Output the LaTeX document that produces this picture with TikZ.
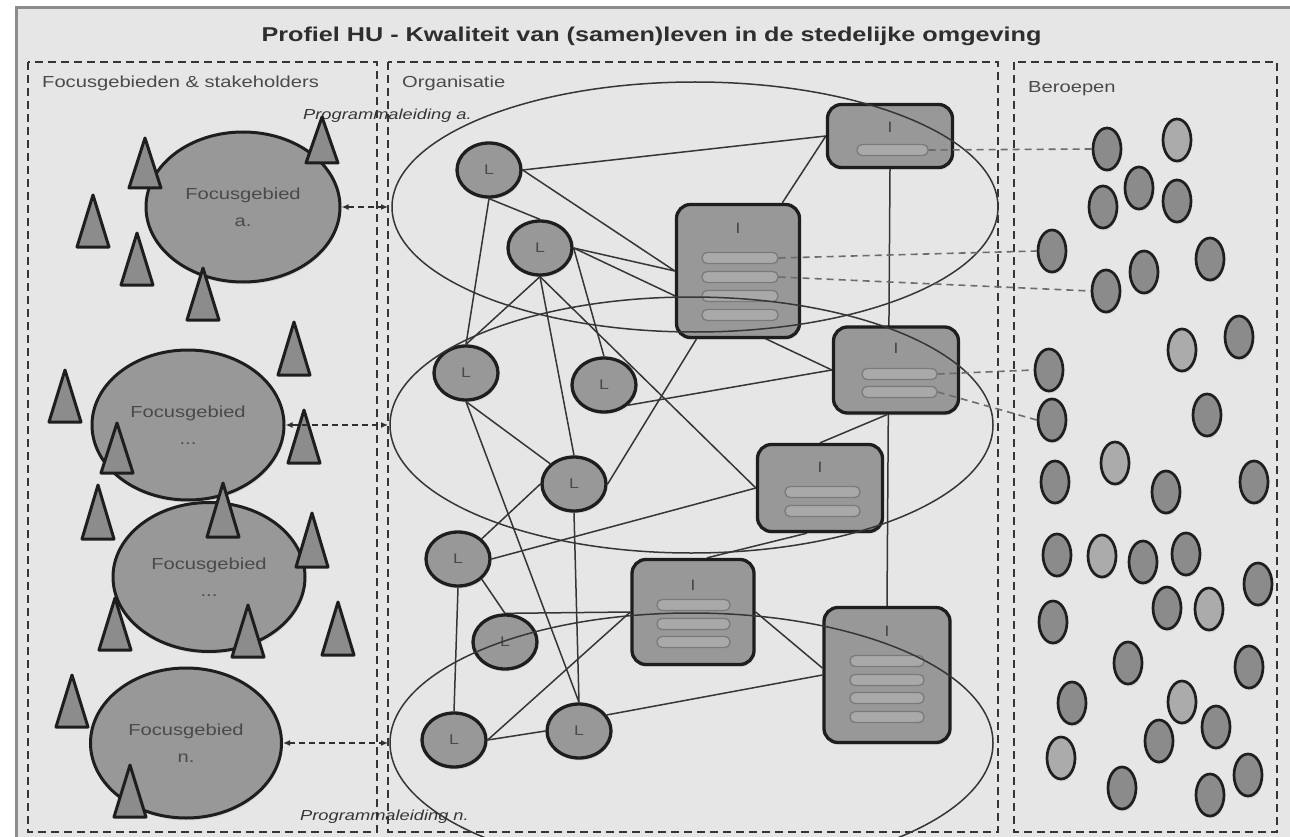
\documentclass[tikz,border=0pt]{standalone}
\usepackage{fontspec}
\setmainfont[FakeStretch=1.26]{Liberation Sans}
\usetikzlibrary{shapes.geometric,arrows.meta,calc,shadows}
\definecolor{bg}{HTML}{E6E6E6}
\definecolor{framegray}{HTML}{8C8C8C}
\definecolor{boxdash}{HTML}{353535}
\definecolor{shapegray}{HTML}{989898}
\definecolor{lineblack}{HTML}{1E1E1E}
\definecolor{txtgray}{HTML}{4A4A4A}
\definecolor{stakegray}{HTML}{8C8C8C}
\definecolor{bdark}{HTML}{8B8B8B}
\definecolor{blight}{HTML}{ABABAB}
\definecolor{linegray}{HTML}{363636}
\definecolor{barfill}{HTML}{A9A9A9}
\definecolor{bargray}{HTML}{7A7A7A}
\definecolor{dashgray}{HTML}{303030}
\definecolor{bdash}{HTML}{6C6C6C}
\pgfdeclarelayer{back}
\pgfdeclarelayer{edges}
\pgfdeclarelayer{front}
\pgfsetlayers{back,edges,main,front}
\newcommand{\drawstake}[3]{\draw[stakestyle] (#1-16,#3) -- (#1,#2) -- (#1+16,#3) -- cycle;}
\begin{document}
\begin{tikzpicture}[x=1pt,y=-1pt,
 softshadow/.style={drop shadow={opacity=0.16, shadow xshift=1pt, shadow yshift=-2.5pt}},
 focus/.style={ellipse, draw=lineblack, line width=3pt, fill=shapegray, inner sep=0pt, text=txtgray, font=\fontsize{16}{27}\selectfont, align=center, softshadow},
 lnode/.style={ellipse, draw=lineblack, line width=3.3pt, fill=shapegray, minimum width=64pt, minimum height=54pt, inner sep=0pt, text=txtgray, font=\fontsize{14}{14}\selectfont, softshadow},
 ibox/.style={rectangle, rounded corners=14pt, draw=lineblack, line width=3.3pt, fill=shapegray, inner sep=0pt, softshadow},
 ibar/.style={rectangle, rounded corners=5pt, draw=bargray, line width=1.3pt, fill=barfill, minimum height=11pt, inner sep=0pt},
 ilabel/.style={text=txtgray, font=\fontsize{15}{15}\selectfont, inner sep=0pt},
 beroep/.style={ellipse, draw=lineblack, line width=2.7pt, minimum width=28pt, minimum height=42pt, inner sep=0pt, fill=bdark, softshadow},
 beroepl/.style={beroep, fill=blight},
 conn/.style={draw=linegray, line width=1.5pt},
 prog/.style={draw=linegray, line width=1.5pt},
 focusarrow/.style={draw=dashgray, line width=1.8pt, dash pattern=on 6pt off 4pt, {Latex[length=7pt,width=6pt]}-{Latex[length=7pt,width=6pt]}},
 berdash/.style={draw=bdash, line width=1.6pt, dash pattern=on 7pt off 5pt},
 secbox/.style={draw=boxdash, line width=2.4pt, dash pattern=on 8pt off 5pt},
 stakestyle/.style={draw=lineblack, fill=stakegray, line width=3pt, line join=round},
 seclabel/.style={anchor=base west, text=txtgray, font=\fontsize{16}{16}\selectfont, inner sep=0pt},
 proglabel/.style={anchor=base west, text=linegray, font=\itshape\fontsize{14.5}{14.5}\selectfont, inner sep=0pt}
]
\useasboundingbox (0,0) rectangle (1290,837);

% background and frame
\begin{pgfonlayer}{back}
\fill[white] (0,0) rectangle (1290,837);
\fill[bg] (16,8) rectangle (1290,837);
\draw[framegray, line width=3pt] (16,837) -- (16,8) -- (1290,8);
\draw[secbox] (28,62) rectangle (377,832);
\draw[secbox] (388,62) rectangle (998,832);
\draw[secbox] (1014,62) rectangle (1277,832);
\end{pgfonlayer}

% title and section labels
\node[anchor=base, text=black!82, font=\bfseries\fontsize{20}{20}\selectfont, inner sep=0pt] (title) at (651.5,42) {Profiel HU - Kwaliteit van (samen)leven in de stedelijke omgeving};
\node[seclabel] (lblfocus) at (42,88) {Focusgebieden \& stakeholders};
\node[seclabel] (lblorg) at (402,88) {Organisatie};
\node[seclabel] (lblber) at (1028,93) {Beroepen};
\node[proglabel] (lblpa) at (303,120) {Programmaleiding a.};
\node[proglabel] (lblpn) at (300,820) {Programmaleiding n.};

% focus areas
\node[focus, minimum width=194pt, minimum height=150pt] (E1) at (243,207) {Focusgebied\\a.};
\node[focus, minimum width=192pt, minimum height=150pt] (E2) at (188,425) {Focusgebied\\...};
\node[focus, minimum width=192pt, minimum height=149pt] (E3) at (209,577) {Focusgebied\\...};
\node[focus, minimum width=191pt, minimum height=150pt] (E4) at (186,743) {Focusgebied\\n.};

% stakeholders
\drawstake{145}{138}{188}
\drawstake{322}{117}{163}
\drawstake{93}{195}{247}
\drawstake{137}{233}{285}
\drawstake{203}{268}{320}
\drawstake{294}{322}{375}
\drawstake{65}{370}{422}
\drawstake{117}{423}{473}
\drawstake{304}{410}{463}
\drawstake{98}{485}{539}
\drawstake{223}{483}{537}
\drawstake{312}{513}{567}
\drawstake{115}{598}{650}
\drawstake{248}{605}{657}
\drawstake{338}{602}{655}
\drawstake{72}{675}{727}
\drawstake{130}{765}{817}

% arrows to organisation
\coordinate (A1) at (388,207);
\coordinate (A2) at (388,425);
\coordinate (A4) at (388,743);
\draw[focusarrow] (E1.east) -- (A1);
\draw[focusarrow] (E2.east) -- (A2);
\draw[focusarrow] (E4.east) -- (A4);

% L nodes
\node[lnode] (L1) at (489,170) {L};
\node[lnode] (L2) at (540,248) {L};
\node[lnode] (L3) at (466,373) {L};
\node[lnode] (L4) at (604,385) {L};
\node[lnode] (L5) at (574,484) {L};
\node[lnode] (L6) at (458,559) {L};
\node[lnode] (L7) at (505,642) {L};
\node[lnode] (L8) at (454,740) {L};
\node[lnode] (L9) at (579,731) {L};

% I nodes
\node[ibox, minimum width=125pt, minimum height=63pt] (I1) at (890,136) {};
\node[ilabel] (I1t) at ($(I1)+(0,-9)$) {I};
\node[ibar, minimum width=71pt] (I1a) at ($(I1)+(2.5,14)$) {};

\node[ibox, minimum width=123pt, minimum height=133pt] (I2) at (738,271) {};
\node[ilabel] (I2t) at ($(I2)+(0,-43)$) {I};
\node[ibar, minimum width=76pt] (I2a) at ($(I2)+(2,-13)$) {};
\node[ibar, minimum width=76pt] (I2b) at ($(I2)+(2,6)$) {};
\node[ibar, minimum width=76pt] (I2c) at ($(I2)+(2,25)$) {};
\node[ibar, minimum width=76pt] (I2d) at ($(I2)+(2,44)$) {};

\node[ibox, minimum width=125pt, minimum height=86pt] (I3) at (896,370) {};
\node[ilabel] (I3t) at ($(I3)+(0,-22)$) {I};
\node[ibar, minimum width=75pt] (I3a) at ($(I3)+(3.5,4)$) {};
\node[ibar, minimum width=75pt] (I3b) at ($(I3)+(3.5,22)$) {};

\node[ibox, minimum width=125pt, minimum height=87pt] (I4) at (820,488) {};
\node[ilabel] (I4t) at ($(I4)+(0,-21)$) {I};
\node[ibar, minimum width=75pt] (I4a) at ($(I4)+(2.5,4)$) {};
\node[ibar, minimum width=75pt] (I4b) at ($(I4)+(2.5,23)$) {};

\node[ibox, minimum width=122pt, minimum height=105pt] (I5) at (693,612) {};
\node[ilabel] (I5t) at ($(I5)+(0,-27)$) {I};
\node[ibar, minimum width=73pt] (I5a) at ($(I5)+(0.5,-7)$) {};
\node[ibar, minimum width=73pt] (I5b) at ($(I5)+(0.5,12)$) {};
\node[ibar, minimum width=73pt] (I5c) at ($(I5)+(0.5,30)$) {};

\node[ibox, minimum width=126pt, minimum height=135pt] (I6) at (887,675) {};
\node[ilabel] (I6t) at ($(I6)+(0,-44)$) {I};
\node[ibar, minimum width=74pt] (I6a) at ($(I6)+(0,-14)$) {};
\node[ibar, minimum width=74pt] (I6b) at ($(I6)+(0,5)$) {};
\node[ibar, minimum width=74pt] (I6c) at ($(I6)+(0,23)$) {};
\node[ibar, minimum width=74pt] (I6d) at ($(I6)+(0,42)$) {};

% connectors inside the organisation
\begin{pgfonlayer}{edges}
\draw[conn] (L1.east) -- (I1.west);
\draw[conn] (L1.east) -- (I2.west);
\draw[conn] (L1.south) -- (L2.north);
\draw[conn] (L1.south) -- (L3.north);
\draw[conn] (L2.east) -- (I2.west);
\draw[conn] (L2.east) -- (I3.west);
\draw[conn] (L2.south) -- (L3.north);
\draw[conn] (L2.east) -- (L4.north);
\draw[conn] (L2.south) -- (L5.north);
\draw[conn] (L2.south) -- (I4.west);
\draw[conn] (L3.south) -- (L5.north west);
\draw[conn] (L3.south) -- (L9.north);
\draw[conn] (L4.south east) -- (I3.west);
\draw[conn] (I2) -- (L5.east);
\draw[conn] (I1.west) -- (I2);
\draw[conn] (I1.south) -- (I6.north);
\draw[conn] ([xshift=-9pt]I3.south) -- (I4.north);
\draw[conn] ([xshift=-13pt]I4.south) -- ([xshift=14pt]I5.north);
\draw[conn] (L6.east) -- (I4.west);
\draw[conn] (L5.west) -- (L6.north east);
\draw[conn] (L5.south) -- (L9.north);
\draw[conn] (L6.south east) -- (L7.north);
\draw[conn] (L6.south) -- (L8.north);
\draw[conn] (L7.north) -- (I5.west);
\draw[conn] (I5.west) -- (L8.east);
\draw[conn] (L8.east) -- (L9.west);
\draw[conn] (I5.east) -- ([yshift=7pt]I6.west);
\draw[conn] (L9.30) -- (I6.west);
\end{pgfonlayer}

% beroepen
\foreach \n/\x/\y/\s in {1/1107/149/beroep, 2/1177/140/beroepl, 3/1139/188/beroep, 4/1103/207/beroep,
 5/1177/201/beroep, 6/1052/251/beroep, 7/1144/272/beroep, 8/1210/259/beroep, 9/1106/291/beroep,
 10/1182/350/beroepl, 11/1239/337/beroep, 12/1049/370/beroep, 13/1207/415/beroep, 14/1052/420/beroep,
 15/1115/463/beroepl, 16/1055/482/beroep, 17/1166/492/beroep, 18/1254/482/beroep, 19/1057/555/beroep,
 20/1102/556/beroepl, 21/1143/562/beroep, 22/1186/554/beroep, 23/1258/584/beroep, 24/1167/608/beroep,
 25/1209/609/beroepl, 26/1053/622/beroep, 27/1128/663/beroep, 28/1249/667/beroep, 29/1072/703/beroep,
 30/1182/702/beroepl, 31/1216/727/beroep, 32/1159/741/beroep, 33/1061/758/beroepl, 34/1122/788/beroep,
 35/1248/775/beroep, 36/1210/795/beroep}
 {\node[\s] (B\n) at (\x,\y) {};}

% front layer: programme ellipses and links to professions
\begin{pgfonlayer}{front}
\draw[prog] (695,207) ellipse [x radius=303pt, y radius=125pt];
\draw[prog] (691.5,425) ellipse [x radius=301.5pt, y radius=128pt];
\begin{scope}
\clip (380,500) rectangle (1010,836);
\draw[prog] (691.5,743) ellipse [x radius=301.5pt, y radius=130pt];
\end{scope}
\draw[berdash] (I1a.east) -- (B1.west);
\draw[berdash] (I2a.east) -- (B6.west);
\draw[berdash] (I2b.east) -- (B9.west);
\draw[berdash] (I3a.east) -- (B12.west);
\draw[berdash] (I3b.east) -- (B14.west);
\end{pgfonlayer}
\end{tikzpicture}
\end{document}
